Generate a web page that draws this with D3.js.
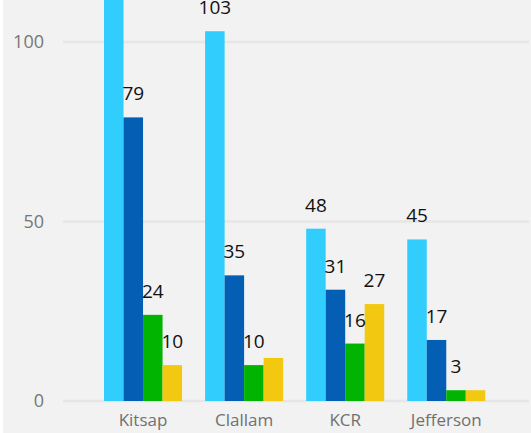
<!DOCTYPE html>
<html>
<head>
<meta charset="utf-8">
<script src="https://cdn.jsdelivr.net/npm/d3@7"></script>
<style>
  html, body { margin: 0; padding: 0; background: #fff; }
  svg { display: block; }
</style>
</head>
<body>
<div id="chart"></div>
<script>
const categories = ["Kitsap", "Clallam", "KCR", "Jefferson"];
const seriesNames = ["s1", "s2", "s3", "s4"];
const series1 = [125, 103, 48, 45];
const series2 = [79, 35, 31, 17];
const series3 = [24, 10, 16, 3];
const series4 = [10, 12, 27, 3];
// which bars carry a value label (the reference drops a few)
const showLabel = [
  [false, true, true, true],
  [true, true, true, true],
  [true, true, true, true],
  [true, false, true, false]
];
const yTicks = [0, 50, 100];
const colors = ["#31cdfd", "#045fb4", "#01b401", "#f2c811"];

const width = 531;
const height = 433;

const svg = d3.select("#chart")
  .append("svg")
  .attr("width", width)
  .attr("height", height);

svg.append("rect")
  .attr("x", 3)
  .attr("y", 0)
  .attr("width", width - 3)
  .attr("height", height)
  .attr("fill", "#f2f2f2");

const y = d3.scaleLinear()
  .domain([0, 100])
  .range([401, 42]);

const x0 = d3.scaleBand()
  .domain(categories)
  .range([92.5, 496.8])
  .paddingInner(0.228)
  .paddingOuter(0.114);

const x1 = d3.scaleBand()
  .domain(seriesNames)
  .range([0, x0.bandwidth()]);

const values = [series1, series2, series3, series4];

// gridlines
svg.append("g")
  .selectAll("line")
  .data(yTicks)
  .join("line")
  .attr("x1", 63)
  .attr("x2", 529)
  .attr("y1", d => y(d))
  .attr("y2", d => y(d))
  .attr("stroke", "#e6e6e6")
  .attr("stroke-width", 2.5);

// y tick labels
svg.append("g")
  .selectAll("text")
  .data(yTicks)
  .join("text")
  .attr("x", 44)
  .attr("y", d => y(d))
  .attr("dy", "0.36em")
  .attr("text-anchor", "end")
  .attr("font-family", "'Open Sans', 'Noto Sans', sans-serif")
  .attr("font-size", 18)
  .attr("fill", "#777")
  .text(d => d);

const rows = [];
categories.forEach((c, i) => {
  seriesNames.forEach((s, j) => {
    rows.push({ cat: c, key: s, value: values[j][i], color: colors[j], label: showLabel[j][i] });
  });
});

svg.append("g")
  .selectAll("rect")
  .data(rows)
  .join("rect")
  .attr("x", d => x0(d.cat) + x1(d.key))
  .attr("width", x1.bandwidth())
  .attr("y", d => y(d.value))
  .attr("height", d => y(0) - y(d.value))
  .attr("fill", d => d.color);

svg.append("g")
  .selectAll("text")
  .data(rows.filter(d => d.label))
  .join("text")
  .attr("x", d => x0(d.cat) + x1(d.key) + x1.bandwidth() / 2)
  .attr("y", d => y(d.value) - 17)
  .attr("text-anchor", "middle")
  .attr("font-family", "'Open Sans', 'Noto Sans', sans-serif")
  .attr("font-size", 19)
  .attr("fill", "#111")
  .text(d => d.value);

// category labels
svg.append("g")
  .selectAll("text")
  .data(categories)
  .join("text")
  .attr("x", d => x0(d) + x0.bandwidth() / 2)
  .attr("y", 426)
  .attr("text-anchor", "middle")
  .attr("font-family", "'Open Sans', 'Noto Sans', sans-serif")
  .attr("font-size", 17)
  .attr("fill", "#707070")
  .text(d => d);
</script>
</body>
</html>
